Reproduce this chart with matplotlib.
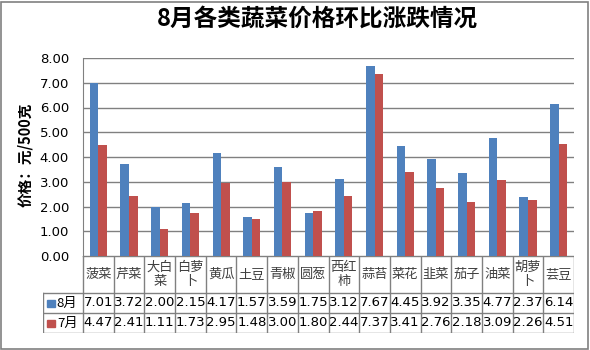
import matplotlib.pyplot as plt
import matplotlib.patches as mpatches
import numpy as np

plt.rcParams['font.family'] = ['Noto Sans CJK SC', 'DejaVu Sans']

categories = ['菠菜', '芹菜', '大白\n菜', '白萝\n卜', '黄瓜', '土豆', '青椒', '圆葱',
              '西红\n柿', '蒜苔', '菜花', '韭菜', '茄子', '油菜', '胡萝\n卜', '芸豆']
aug = [7.01, 3.72, 2.00, 2.15, 4.17, 1.57, 3.59, 1.75, 3.12, 7.67, 4.45, 3.92, 3.35, 4.77, 2.37, 6.14]
jul = [4.47, 2.41, 1.11, 1.73, 2.95, 1.48, 3.00, 1.80, 2.44, 7.37, 3.41, 2.76, 2.18, 3.09, 2.26, 4.51]
series_names = ['8月', '7月']
colors = ['#4F81BD', '#C0504D']
yticks = [0, 1, 2, 3, 4, 5, 6, 7, 8]

W, H = 590, 350
fig = plt.figure(figsize=(5.9, 3.5), dpi=100)
fig.patch.set_facecolor('white')

# outer border
fig.add_artist(mpatches.Rectangle((1 / W, 1 / H), 1 - 3 / W, 1 - 3 / H, transform=fig.transFigure,
                                  fill=False, edgecolor='#808080', lw=1.2))

x0, x1 = 83, 574
ytop, ybot = 58, 256
ax = fig.add_axes([x0 / W, 1 - ybot / H, (x1 - x0) / W, (ybot - ytop) / H])
n = len(categories)
x = np.arange(n) + 0.5
bw = 0.28
ax.bar(x - bw / 2, aug, bw, color=colors[0], zorder=3)
ax.bar(x + bw / 2, jul, bw, color=colors[1], zorder=3)
ax.set_xlim(0, n)
ax.set_ylim(0, 8)
ax.set_yticks(yticks)
ax.set_yticklabels(['%.2f' % v for v in yticks], fontsize=9.5, family='DejaVu Sans')
ax.set_xticks([])
ax.yaxis.grid(True, color='#808080', lw=1)
ax.set_axisbelow(True)
for s in ['top', 'right', 'bottom']:
    ax.spines[s].set_visible(False)
ax.spines['left'].set_color('#808080')
ax.tick_params(axis='y', length=0, pad=10)

fig.text(25 / W, 1 - 155 / H, '价格：元/500克', rotation=90, ha='center', va='center',
         fontsize=10.5, fontweight='bold')
fig.text(0.538, 1 - 19 / H, '8月各类蔬菜价格环比涨跌情况', ha='center', va='center',
         fontsize=17, fontweight='bold')

# data table under the plot
lx = 43
rows_y = [256, 293, 313, 333]
tab = fig.add_axes([lx / W, 1 - rows_y[-1] / H, (x1 - lx) / W, (rows_y[-1] - rows_y[0]) / H])
colw = (x1 - x0) / n
left = -(x0 - lx) / colw
tab.set_xlim(left, n)
tab.set_ylim(rows_y[-1], rows_y[0])
tab.axis('off')
gc = '#808080'
# horizontal lines
tab.plot([0, n], [rows_y[0], rows_y[0]], color=gc, lw=1)
for yy in rows_y[1:]:
    tab.plot([left, n], [yy, yy], color=gc, lw=1)
# vertical lines
for i in range(n + 1):
    tab.plot([i, i], [rows_y[0], rows_y[-1]], color=gc, lw=1)
tab.plot([left, left], [rows_y[1], rows_y[-1]], color=gc, lw=1)
for i, c in enumerate(categories):
    tab.text(i + 0.5, (rows_y[0] + rows_y[1]) / 2, c, ha='center', va='center',
             fontsize=9.5, color='#404040', linespacing=1.15)
for r, (vals, name, col) in enumerate(zip([aug, jul], series_names, colors)):
    yc = (rows_y[r + 1] + rows_y[r + 2]) / 2
    for i, v in enumerate(vals):
        tab.text(i + 0.5, yc, '%.2f' % v, ha='center', va='center', fontsize=9.5,
                 family='DejaVu Sans')
    tab.add_patch(mpatches.Rectangle((left + 0.14, yc - 3.5), 0.26, 7, color=col))
    tab.text(left + 0.45, yc, name, ha='left', va='center', fontsize=9.5)

fig.savefig('out.png', dpi=100)
